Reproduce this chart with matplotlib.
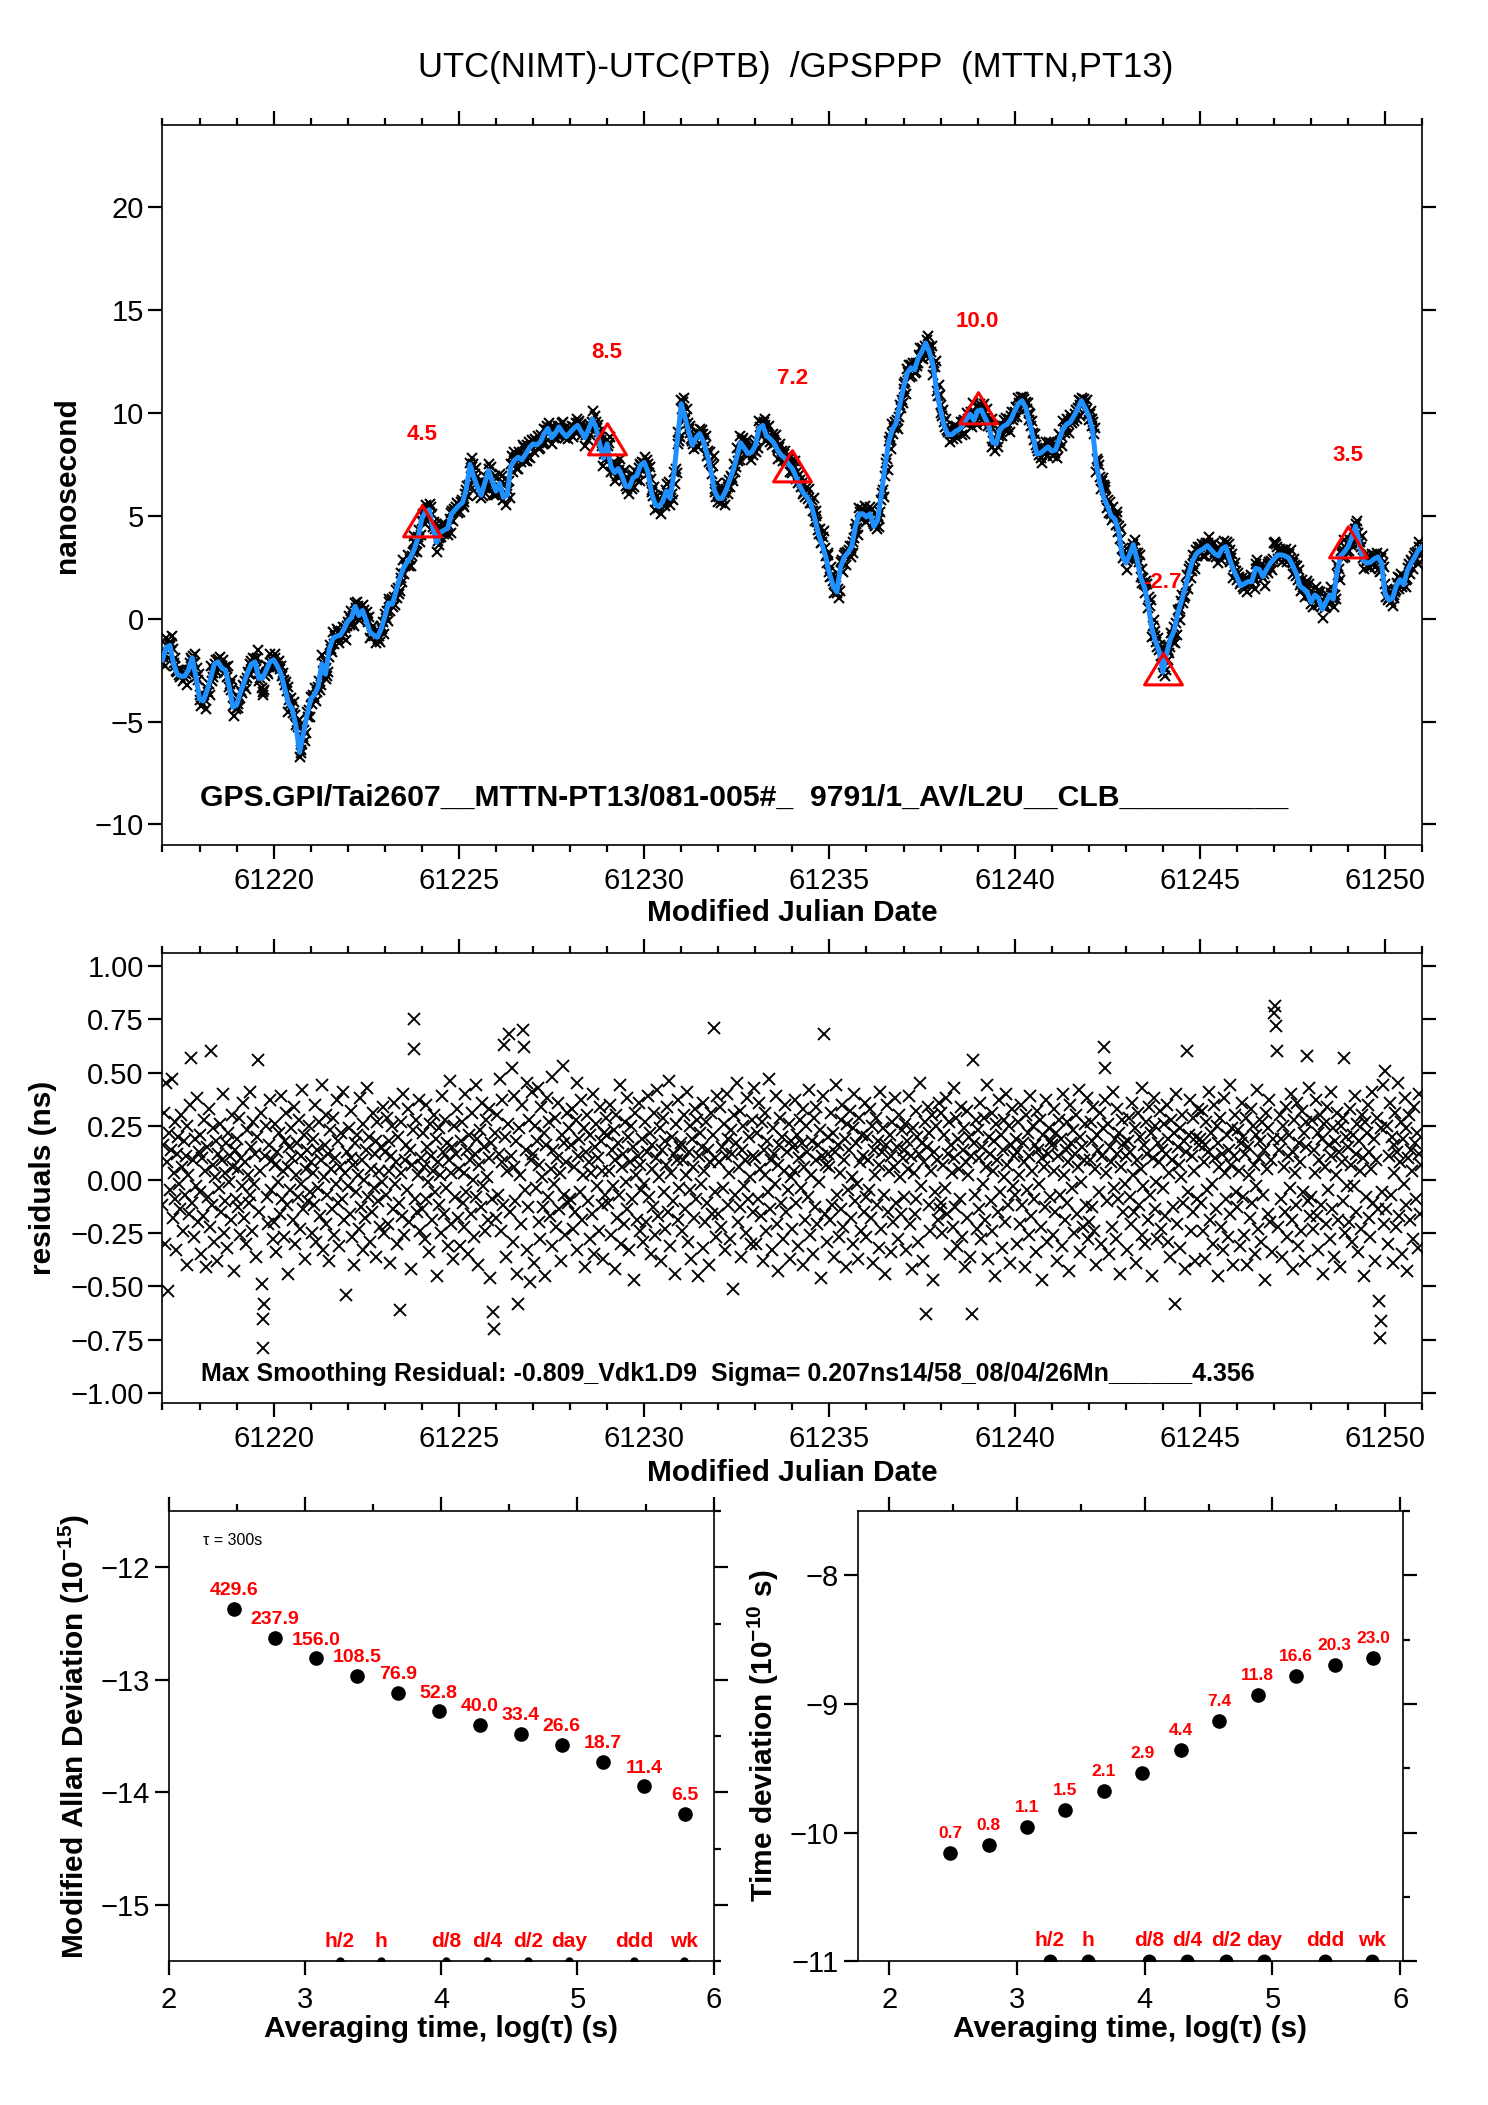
import numpy as np
import matplotlib
matplotlib.use("Agg")
import matplotlib.pyplot as plt
from matplotlib.path import Path
from matplotlib.ticker import MultipleLocator, FuncFormatter

plt.rcParams['font.family'] = ['Liberation Sans', 'DejaVu Sans']
plt.rcParams['mathtext.default'] = 'regular'

mjd_start = 61217.0
step = 0.1
smooth_ns = [
    -2.0, -1.4, -1.3, -2.2, -2.7, -2.8, -2.8, -2.5, -1.9, -2.8,
    -3.9, -4.0, -3.5, -2.9, -2.2, -2.1, -2.4, -2.5, -3.3, -4.3,
    -4.2, -3.6, -3.1, -2.6, -2.2, -2.1, -2.9, -2.9, -2.5, -2.1,
    -2.0, -2.3, -2.7, -3.4, -4.1, -4.4, -5.2, -6.5, -5.6, -4.7,
    -3.9, -3.7, -3.3, -2.2, -2.7, -1.5, -0.95, -0.85, -0.8, -0.5,
    -0.13, 0.05, 0.6, 0.15, 0.4, -0.1, -0.65, -0.8, -0.9, -0.5,
    0.1, 0.76, 0.7, 1.3, 1.95, 2.45, 2.75, 3.0, 3.4, 3.95,
    4.87, 5.2, 5.3, 4.4, 3.7, 4.2, 4.3, 4.4, 5.1, 5.3,
    5.5, 5.65, 6.3, 7.5, 6.9, 6.4, 6.0, 6.6, 7.2, 6.7,
    6.2, 6.58, 5.9, 6.0, 7.4, 7.7, 7.85, 7.72, 8.0, 8.3,
    8.5, 8.45, 8.6, 9.0, 9.25, 8.8, 9.0, 9.32, 9.05, 8.85,
    9.05, 9.25, 9.4, 9.1, 8.8, 9.2, 9.7, 9.3, 8.5, 7.8,
    8.5, 7.4, 7.1, 7.3, 6.95, 6.45, 6.4, 6.85, 6.95, 7.45,
    7.6, 7.15, 6.1, 5.55, 5.45, 5.7, 6.2, 5.85, 7.0, 8.7,
    10.45, 9.8, 9.1, 8.43, 8.8, 9.0, 8.6, 8.0, 7.2, 6.2,
    5.85, 5.85, 6.2, 6.7, 7.2, 7.85, 8.55, 8.3, 8.03, 8.1,
    8.4, 9.25, 9.4, 8.9, 8.75, 8.55, 8.2, 7.95, 7.8, 7.5,
    7.3, 6.9, 6.45, 6.1, 5.9, 5.6, 4.9, 4.15, 3.6, 3.0,
    2.2, 1.6, 1.3, 2.5, 3.0, 3.2, 3.5, 4.45, 5.1, 5.1,
    4.95, 5.1, 4.48, 4.8, 6.0, 7.4, 8.6, 9.2, 9.5, 10.4,
    11.25, 11.95, 12.2, 12.1, 12.7, 13.0, 13.4, 12.95, 12.3, 11.0,
    10.1, 9.35, 8.95, 8.95, 9.1, 9.2, 9.4, 9.7, 9.95, 9.64,
    10.1, 10.15, 9.75, 9.4, 8.6, 8.5, 9.2, 9.36, 9.45, 9.7,
    10.1, 10.45, 10.6, 10.25, 9.55, 8.8, 8.0, 8.05, 8.2, 8.35,
    8.15, 8.2, 8.7, 9.2, 9.45, 9.55, 9.85, 10.2, 10.6, 10.25,
    9.85, 9.2, 7.55, 6.6, 5.9, 5.5, 5.0, 4.85, 4.3, 3.1,
    2.7, 3.1, 3.6, 2.9, 2.0, 1.55, 0.7, -0.45, -1.1, -1.6,
    -2.6, -1.7, -1.0, -0.6, 0.25, 0.85, 1.5, 2.2, 2.8, 3.15,
    3.3, 3.4, 3.55, 3.35, 3.15, 3.05, 3.4, 3.5, 2.9, 2.4,
    2.0, 1.6, 1.7, 1.8, 1.8, 2.45, 2.4, 2.05, 2.4, 2.7,
    2.9, 3.1, 3.1, 3.05, 2.95, 2.6, 2.2, 1.58, 1.45, 1.25,
    0.8, 1.15, 1.0, 0.45, 0.8, 1.15, 0.95, 2.3, 3.05, 3.25,
    3.5, 3.95, 4.5, 3.7, 2.85, 2.7, 2.75, 2.9, 3.0, 2.71,
    1.2, 0.9, 1.0, 1.6, 1.9, 1.65, 2.35, 2.7, 3.0, 3.35,
    3.5,
]

# residuals raw - smooth, in 0.01 ns, 40 per day (one row per day)
resid_cns = [
    [-12, 16, 31, -30, 45, 8, -52, 22, -5, 14, 47, -18, 3, 27, -9, -33, 12, 20, -2, -14, 30, 6, -24, 18, -7, 11, -40, 25, 2, -16, 35, 57, -11, 9, -27, 19, -3, 38, -20, 13],
    [-6, 21, -35, 10, -17, 28, 4, -41, 15, -8, 33, -22, 60, -12, 7, 24, -29, 1, 18, -38, 12, -4, 26, -15, 9, 40, -25, 3, -10, 17, -32, 22, -1, 11, -19, 30, 6, -43, 14, -9],
    [19, -13, 5, 29, -26, 10, -3, 36, -18, 8, -30, 23, 2, -11, 41, -7, 15, -24, 27, -2, 12, -36, 20, 56, -15, 4, 31, -49, -65, -79, -58, 11, 25, -8, -21, 16, 37, -5, 9, -28],
    [-20, 7, 26, -34, 13, -1, 22, -16, 39, -9, 4, -27, 18, 31, -12, 6, -44, 15, -5, 24, 10, -19, 34, -30, 2, 17, -8, 28, -23, 11, -2, 42, -14, 21, -37, 5, 14, -10, 25, -6],
    [8, -25, 19, 3, -12, 35, -29, 14, -4, 27, -17, 9, 44, -33, 1, 16, -21, 30, -7, 12, -38, 23, 5, -14, 29, -26, 10, -2, 37, -11, 18, -31, 6, 22, -9, 41, -19, 3, -54, 13],
    [-3, 24, -16, 10, 32, -27, 7, -40, 17, -6, 21, 2, -23, 38, -13, 9, -33, 26, 0, -18, 14, 43, -8, 20, -29, 5, -15, 31, -4, 12, -36, 18, 27, -10, 4, -22, 15, -1, 34, -25],
    [13, -7, 29, -21, 4, 18, -39, 11, 25, -14, 36, -2, 8, -30, 20, -11, -61, 27, 3, -17, 40, -26, 9, 16, -5, 33, -20, 14, -42, 7, 23, 75, 61, -9, 28, -15, 2, 37, -24, 10],
    [-14, 22, 6, -28, 35, -9, 15, -1, -34, 26, 11, -19, 4, 30, -6, 19, -45, 8, 24, -12, 2, -25, 39, 13, -16, 28, -4, 17, -31, 9, 46, -21, 3, 15, -37, 25, -8, 12, 33, -18],
    [5, -31, 18, 27, -11, 3, -22, 40, -6, 14, -35, 21, 9, -16, 31, 0, -27, 12, 44, -8, 19, -40, 7, 23, -13, 36, -3, 15, -24, 28, 1, -19, 10, 33, -46, 17, -9, -62, -70, 22],
    [-18, 30, -7, 12, 47, -24, 8, 37, -12, 63, 20, -36, 4, 26, 68, -15, 11, 52, -29, 6, 39, -10, 18, -44, -58, 24, 2, -21, 35, 70, 62, -5, 14, -33, 45, -13, 28, -48, 9, 41],
    [12, -39, 25, -4, 18, 43, -20, 7, -28, 34, 1, -13, 22, -45, 16, 38, -8, 27, -17, 5, 48, -31, 14, -2, 29, -22, 10, 36, -14, 3, -38, 21, 53, -7, 17, -26, 8, 31, -11, 24],
    [-9, 16, 33, -23, 6, -15, 28, 45, -33, 11, 19, -6, 37, -19, 2, 24, -41, 13, 30, -10, 8, -28, 21, 3, -16, 40, -35, 15, 26, -3, 10, -24, 34, 18, -12, 4, -37, 22, -7, 29],
    [21, -11, 4, 35, -26, 14, -3, 23, -42, 9, 30, -18, 17, -7, 44, -30, 6, 12, -21, 27, -1, 38, -14, 20, -33, 8, 25, -9, 15, -47, 31, 2, -19, 11, 36, -24, 7, -5, 19, -29],
    [-2, 27, -20, 13, 39, -8, 22, -35, 5, 16, -13, 31, -26, 10, 42, -17, 1, 24, -38, 14, 29, -6, 18, -23, 7, 34, -15, 46, -31, 3, 20, -10, 12, -44, 26, 9, -19, 37, -4, 15],
    [17, -24, 9, 30, -14, 2, 41, -29, 13, -5, 25, -37, 19, 6, -18, 33, -9, 28, -45, 11, 22, -2, 15, -32, 36, 4, -20, 27, -11, 14, -40, 8, 31, -16, 21, 71, -6, 10, -27, 39],
    [-16, 8, 34, -22, 15, -4, 26, -33, 11, 40, -12, 19, 3, -28, 23, 12, -51, 30, -7, 17, 45, -20, 6, -13, 32, -36, 14, 25, -3, 9, -25, 38, -9, 20, 1, -30, 28, -15, 11, 43],
    [10, -30, 22, -9, 36, 5, -17, 27, -38, 14, 2, 31, -24, 18, -6, 47, -14, 9, -33, 24, 12, -2, 39, -21, 7, -43, 16, 29, -11, 20, -28, 4, 35, -15, 13, -5, 26, -37, 18, 1],
    [-23, 15, 4, 37, -11, 21, -31, 10, 28, -4, 17, -40, 33, 6, -19, 25, 13, -8, 42, -26, 2, 18, -35, 29, -13, 9, 34, -21, 16, -1, 23, -46, 11, 39, 68, -16, 7, -29, 20, 12],
    [6, -19, 31, -12, 22, -36, 13, 44, -7, 16, -27, 3, 28, -14, 35, -22, 9, 19, -41, 26, -5, 14, 32, -18, 1, -30, 24, 40, -10, 17, -2, -37, 29, 8, -24, 21, 11, -15, 36, -8],
    [-27, 20, 9, -5, 33, -18, 25, -39, 14, 2, 29, -12, 18, -32, 7, 41, -23, 13, 24, -7, -44, 16, 35, -15, 4, 21, -34, 11, 27, -20, 6, 38, -11, 15, -28, 30, 1, -16, 23, 10],
    [14, -8, 26, -33, 18, 5, 39, -21, 11, -42, 24, 3, -16, 32, -9, 20, -29, 12, 45, -3, 17, -38, 8, 27, -63, 15, 34, -12, 22, -24, 4, 30, -47, 13, -6, 25, 9, -19, 36, -14],
    [-11, 31, -25, 7, 21, -4, 38, -16, 12, 27, -35, 16, 3, -22, 43, 10, -13, 29, -31, 19, 5, -9, 34, -27, 14, 24, -41, 8, 32, -18, 2, 20, -36, 11, -63, 56, 17, -7, 28, -23],
    [23, -14, 10, 36, -28, 15, -2, 29, -19, 6, 44, -37, 20, 12, -10, 31, -24, 4, 18, -45, 26, 9, -15, 37, -6, 21, -32, 14, 1, 28, -20, 40, 7, -12, 25, -39, 16, 33, -3, 11],
    [-7, 19, -30, 13, 27, 2, -21, 35, -12, 17, 8, -41, 30, -5, 22, -26, 11, 39, -17, 4, 25, -9, 16, -34, 32, 14, -2, 28, -22, 10, -47, 21, 6, -13, 37, -29, 12, 24, -8, 18],
    [16, -26, 33, 4, -15, 22, -38, 11, 28, -7, 19, -31, 40, 2, -19, 14, 27, -11, 8, -43, 35, 17, -4, 23, -25, 12, 30, -16, 6, 42, -34, 20, -1, 15, -22, 9, 26, -12, 38, -28],
    [-20, 9, 27, -13, 18, 34, -24, 5, -40, 21, 14, -6, 31, -30, 11, 24, 62, 52, 37, 3, -10, 26, -35, 15, 8, -22, 41, -4, 19, -28, 12, 33, -9, 22, -44, 6, 28, -15, 17, -2],
    [11, -33, 18, 29, -8, 13, -21, 36, 2, -15, 24, -39, 9, 31, -12, 20, 5, -26, 43, -3, 16, -30, 27, 12, -19, 34, -7, 22, -45, 10, 38, -14, 25, -1, -28, 17, 8, 32, -23, 14],
    [-4, 26, -17, 12, 35, -29, 19, 3, -36, 28, 9, -13, 22, -58, 40, -21, 15, 7, -32, 24, 1, 30, -11, 18, -42, 13, 60, -6, 21, 37, -24, 11, -15, 29, 4, -38, 20, -9, 33, 16],
    [19, -11, 32, -24, 8, 16, -37, 27, -5, 13, 41, -19, 22, -2, -30, 35, 10, -14, 25, -45, 17, 6, 29, -22, 12, -33, 38, 3, -9, 21, -27, 14, 44, -16, 7, 24, -40, 11, 30, -6],
    [-13, 23, 4, -31, 17, 36, -8, 20, -26, 12, 29, -40, 15, 2, -18, 33, -11, 25, 7, -35, 21, -3, 42, -23, 10, 18, -29, 27, -7, 14, -47, 31, 5, -16, 24, 37, -20, 9, -34, 19],
    [78, 81, 72, 60, -22, 14, 30, -9, 19, -36, 25, 6, -15, 34, -27, 11, 21, -4, 40, -19, 13, -42, 28, 3, -12, 36, -31, 17, 8, -24, 32, -6, 22, -38, 15, 27, 58, -10, 43, -17],
    [-8, 28, -23, 14, 3, 37, -17, 22, -33, 9, 30, -12, 19, -44, 26, 6, -21, 34, -5, 16, -28, 41, 11, -14, 24, -36, 18, 2, 31, -19, 13, -41, 25, 8, -10, 29, 57, -25, 20, -3],
    [15, -20, 33, 7, -29, 21, -3, 39, -15, 12, 26, -34, 18, 4, -23, 30, 10, -45, 27, -8, 22, 35, -18, 13, -27, 5, 41, -11, 19, -38, 9, 29, -14, -57, -74, -66, 24, -6, 44, -21],
    [51, -14, 25, -30, 11, 36, -7, 20, -39, 16, 3, 31, -22, 13, 45, -17, 8, 27, -35, 19, -2, 38, -12, 24, -43, 10, 30, -19, 14, 4, -28, 34, 17, -9, 22, -32, 12, 40, -16, 7],
]
resid_step = 0.025  # day between residual samples

tri_mjd = [61224, 61229, 61234, 61239, 61244, 61249]
tri_ns = [4.5, 8.5, 7.2, 10.0, -2.7, 3.5]

tau_s = [300, 600, 1200, 2400, 4800, 9600, 19200, 38400, 76800, 153600, 307200, 614400]
mdev_e15 = [429.6, 237.9, 156.0, 108.5, 76.9, 52.8, 40.0, 33.4, 26.6, 18.7, 11.4, 6.5]
tdev_e10 = [0.7, 0.8, 1.1, 1.5, 2.1, 2.9, 4.4, 7.4, 11.8, 16.6, 20.3, 23.0]

mark_names = ['h/2', 'h', 'd/8', 'd/4', 'd/2', 'day', 'ddd', 'wk']
mark_tau = [1800, 3600, 10800, 21600, 43200, 86400, 259200, 604800]

top_note = "GPS.GPI/Tai2607__MTTN-PT13/081-005#_  9791/1_AV/L2U__CLB__________"
mid_note = "Max Smoothing Residual: -0.809_Vdk1.D9  Sigma= 0.207ns14/58_08/04/26Mn______4.356"

smooth = np.array(smooth_ns)
t_smooth = mjd_start + step * np.arange(len(smooth))
resid = np.array(resid_cns).ravel() / 100.0
idx = np.arange(len(resid))
t_raw = mjd_start + resid_step * idx
raw = smooth[idx // 4] + resid

fig = plt.figure(figsize=(14.88, 21.05), dpi=100)
TICK = 21
LAB = 21.5


def frame(ax):
    for s in ax.spines.values():
        s.set_linewidth(1.2)
    ax.tick_params(which='both', direction='out', width=1.6, labelsize=TICK,
                   top=True, right=True)
    ax.tick_params(which='major', length=10)
    ax.tick_params(which='minor', length=5)


def mjd_axis(ax):
    ax.set_xlim(61217, 61251)
    ax.xaxis.set_major_locator(MultipleLocator(5))
    ax.xaxis.set_minor_locator(MultipleLocator(1))
    ax.xaxis.set_major_formatter(FuncFormatter(lambda v, p: '%d' % v))
    ax.tick_params(axis='x', pad=6)
    ax.set_xlabel('Modified Julian Date', fontsize=LAB, fontweight='bold')


# ---- top: time series
ax1 = fig.add_axes([0.1092, 0.5986, 0.8466, 0.3420])
ax1.plot(t_raw, raw, 'x', color='black', ms=7, mew=1.5, zorder=2)
ax1.plot(t_smooth, smooth, '-', color='#1E90FF', lw=3.6, zorder=3)
tri = Path([(0, 0.667), (-0.606, -0.333), (0.606, -0.333), (0, 0.667)],
           [Path.MOVETO, Path.LINETO, Path.LINETO, Path.CLOSEPOLY])
ax1.plot(tri_mjd, tri_ns, ls='none', marker=tri, ms=30, mfc='none', mec='red', mew=2.2, zorder=4)
for m, v in zip(tri_mjd, tri_ns):
    ax1.annotate('%.1f' % v, (m, v), xytext=(0, 66), textcoords='offset points',
                 ha='center', va='center', color='red', fontsize=16, fontweight='bold')
ax1.set_ylim(-11, 24)
ax1.yaxis.set_major_locator(MultipleLocator(5))
mjd_axis(ax1)
frame(ax1)
ax1.set_ylabel('nanosecond', fontsize=LAB, fontweight='bold')
ax1.yaxis.set_label_coords(-0.076, 0.5)
ax1.yaxis.label.set_va('center')
ax1.xaxis.set_label_coords(0.5, -0.094)
ax1.xaxis.label.set_va('center')
ax1.text(0.0298, 0.065, top_note, transform=ax1.transAxes, fontsize=21.7,
         fontweight='bold', va='center', ha='left')
fig.text(0.535, 0.968, 'UTC(NIMT)-UTC(PTB)  /GPSPPP  (MTTN,PT13)', fontsize=25,
         ha='center', va='center')

# ---- middle: residuals
ax2 = fig.add_axes([0.1092, 0.3336, 0.8466, 0.2135])
ax2.plot(t_raw, resid, 'x', color='black', ms=8, mew=1.35)
ax2.set_ylim(-1.044, 1.058)
ax2.yaxis.set_major_locator(MultipleLocator(0.25))
ax2.yaxis.set_major_formatter(FuncFormatter(lambda v, p: ('%.2f' % v).replace('-', '\u2212')))
mjd_axis(ax2)
frame(ax2)
ax2.set_ylabel('residuals (ns)', fontsize=LAB, fontweight='bold')
ax2.yaxis.set_label_coords(-0.095, 0.5)
ax2.yaxis.label.set_va('center')
ax2.xaxis.set_label_coords(0.5, -0.156)
ax2.xaxis.label.set_va('center')
ax2.text(0.0305, 0.065, mid_note, transform=ax2.transAxes, fontsize=18,
         fontweight='bold', va='center', ha='left')


# ---- bottom: stability
def stab_axis(ax, ylim):
    ax.set_ylim(*ylim)
    ax.xaxis.set_major_locator(MultipleLocator(1))
    ax.xaxis.set_minor_locator(MultipleLocator(0.5))
    ax.yaxis.set_major_locator(MultipleLocator(1))
    ax.yaxis.set_minor_locator(MultipleLocator(0.5))
    frame(ax)
    ax.tick_params(which='minor', bottom=False, left=False, top=True, right=True)
    ax.tick_params(axis='x', pad=8)
    ax.set_xlabel('Averaging time, log(\u03c4) (s)', fontsize=LAB, fontweight='bold')
    ax.xaxis.set_label_coords(0.5, -0.1515)
    ax.xaxis.label.set_va('center')


lt = np.log10(tau_s)
lm = np.log10(mark_tau)

ax3 = fig.add_axes([0.1135, 0.0683, 0.3661, 0.2138])
ymd = np.log10(mdev_e15) - 15
ax3.plot(lt, ymd, 'o', color='black', ms=9.5)
for x, y, v in zip(lt, ymd, mdev_e15):
    ax3.annotate('%.1f' % v, (x, y), xytext=(0, 13), textcoords='offset points',
                 ha='center', va='center', color='red', fontsize=14, fontweight='bold')
ax3.set_xlim(2, 6)
stab_axis(ax3, (-15.5, -11.5))
ax3.plot(lm, np.full(len(lm), -15.5), 'o', color='black', ms=5)
for x, n in zip(lm, mark_names):
    ax3.annotate(n, (x, -15.5), xytext=(0, 14), textcoords='offset points',
                 ha='center', va='center', color='red', fontsize=15, fontweight='bold')
ax3.text(0.063, 0.934, '\u03c4 = 300s', transform=ax3.transAxes, fontsize=11.5,
         va='center', ha='left')
ax3.set_ylabel('Modified Allan Deviation (10$^{-15}$)', fontsize=LAB, fontweight='bold')
ax3.yaxis.set_label_coords(-0.173, 0.5)
ax3.yaxis.label.set_va('center')

ax4 = fig.add_axes([0.5765, 0.0683, 0.3662, 0.2138])
ytd = np.log10(tdev_e10) - 10
ax4.plot(lt, ytd, 'o', color='black', ms=9.5)
for x, y, v in zip(lt, ytd, tdev_e10):
    ax4.annotate('%.1f' % v, (x, y), xytext=(0, 14), textcoords='offset points',
                 ha='center', va='center', color='red', fontsize=12.5, fontweight='bold')
ax4.set_xlim(1.755, 6.02)
stab_axis(ax4, (-11, -7.5))
ax4.plot(lm, np.full(len(lm), -11), 'o', color='black', ms=9)
for x, n in zip(lm, mark_names):
    ax4.annotate(n, (x, -11), xytext=(0, 15), textcoords='offset points',
                 ha='center', va='center', color='red', fontsize=15, fontweight='bold')
ax4.set_ylabel('Time deviation (10$^{-10}$ s)', fontsize=LAB, fontweight='bold')
ax4.yaxis.set_label_coords(-0.174, 0.5)
ax4.yaxis.label.set_va('center')

fig.savefig('out.png', dpi=100)
